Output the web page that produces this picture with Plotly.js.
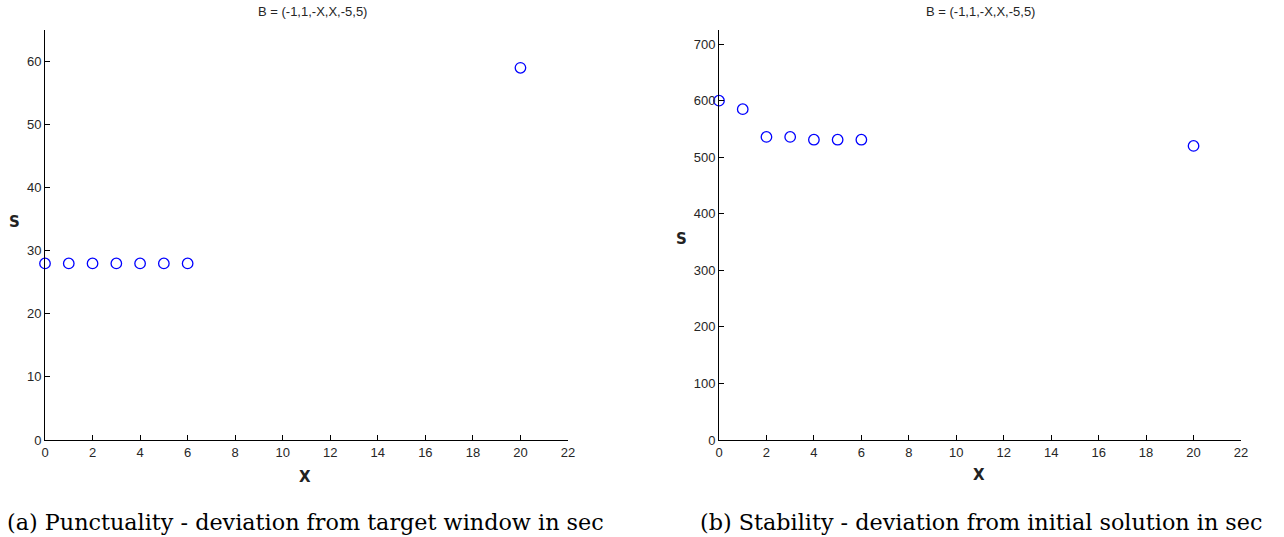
<!DOCTYPE html>
<html>
<head>
<meta charset="utf-8">
<script src="https://cdn.plot.ly/plotly-3.0.1.min.js"></script>
<style>html,body{margin:0;padding:0;background:#fff;}#chart{width:1284px;height:537px;}</style>
</head>
<body>
<div id="chart"></div>
<script>
var xValues = [0, 1, 2, 3, 4, 5, 6, 20];
var punctuality = [28, 28, 28, 28, 28, 28, 28, 59];
var stability = [600, 585, 536, 536, 531, 531, 531, 520];
var xTicks = [0, 2, 4, 6, 8, 10, 12, 14, 16, 18, 20, 22];
var yTicksA = [0, 10, 20, 30, 40, 50, 60];
var yTicksB = [0, 100, 200, 300, 400, 500, 600, 700];
var panelTitle = "B = (-1,1,-X,X,-5,5)";
var captionA = "(a) Punctuality - deviation from target window in sec";
var captionB = "(b) Stability - deviation from initial solution in sec";

var W = 1284, H = 537;
function px(v){ return v / W; }
function py(v){ return 1 - v / H; }

var marker = {symbol: 'circle-open', size: 10.5, color: '#0000ff', line: {width: 1.3, color: '#0000ff'}};
var traces = [
  {x: xValues, y: punctuality, type: 'scatter', mode: 'markers', marker: marker, xaxis: 'x', yaxis: 'y', cliponaxis: false, hoverinfo: 'x+y'},
  {x: xValues, y: stability, type: 'scatter', mode: 'markers', marker: marker, xaxis: 'x2', yaxis: 'y2', cliponaxis: false, hoverinfo: 'x+y'}
];

var tickFont = {family: 'Liberation Sans, Arial, sans-serif', size: 13, color: '#262626'};
function xaxis(d, anchor){
  return {domain: d, anchor: anchor, range: [0, 22], tickvals: xTicks, ticktext: xTicks.map(String),
    showline: true, linecolor: '#000', linewidth: 1, ticks: 'inside', ticklen: 5, tickcolor: '#000',
    showgrid: false, zeroline: false, tickfont: tickFont, fixedrange: true};
}
function yaxis(r, vals, anchor){
  return {domain: [py(440), py(30)], anchor: anchor, range: r, tickvals: vals, ticktext: vals.map(String),
    showline: true, linecolor: '#000', linewidth: 1, ticks: 'inside', ticklen: 5, tickcolor: '#000',
    showgrid: false, zeroline: false, tickfont: tickFont, fixedrange: true};
}

var titleFont = {family: 'Liberation Sans, Arial, sans-serif', size: 13, color: '#262626'};
var labelFont = {family: 'DejaVu Sans, sans-serif', size: 15, color: '#222'};
var capFont = {family: 'DejaVu Serif, serif', size: 22.3, color: '#000'};

var annotations = [
  {text: panelTitle, x: px(312), y: py(12), xref: 'paper', yref: 'paper', xanchor: 'center', yanchor: 'middle', showarrow: false, font: titleFont},
  {text: panelTitle, x: px(980), y: py(12), xref: 'paper', yref: 'paper', xanchor: 'center', yanchor: 'middle', showarrow: false, font: titleFont},
  {text: '<b>S</b>', x: px(14), y: py(222), xref: 'paper', yref: 'paper', xanchor: 'center', yanchor: 'middle', showarrow: false, font: labelFont},
  {text: '<b>S</b>', x: px(681), y: py(239), xref: 'paper', yref: 'paper', xanchor: 'center', yanchor: 'middle', showarrow: false, font: labelFont},
  {text: '<b>X</b>', x: px(305), y: py(477), xref: 'paper', yref: 'paper', xanchor: 'center', yanchor: 'middle', showarrow: false, font: labelFont},
  {text: '<b>X</b>', x: px(979), y: py(475), xref: 'paper', yref: 'paper', xanchor: 'center', yanchor: 'middle', showarrow: false, font: labelFont},
  {text: captionA, x: px(606), y: py(522), xref: 'paper', yref: 'paper', xanchor: 'right', yanchor: 'middle', showarrow: false, font: capFont},
  {text: captionB, x: px(698), y: py(522), xref: 'paper', yref: 'paper', xanchor: 'left', yanchor: 'middle', showarrow: false, font: capFont}
];

var layout = {
  width: W, height: H,
  margin: {l: 0, r: 0, t: 0, b: 0},
  paper_bgcolor: '#fff', plot_bgcolor: '#fff',
  showlegend: false,
  xaxis: xaxis([px(45), px(568)], 'y'),
  yaxis: yaxis([0, 65], yTicksA, 'x'),
  xaxis2: xaxis([px(719), px(1241)], 'y2'),
  yaxis2: yaxis([0, 725], yTicksB, 'x2'),
  annotations: annotations
};

Plotly.newPlot('chart', traces, layout, {displayModeBar: false, staticPlot: true});
</script>
</body>
</html>
